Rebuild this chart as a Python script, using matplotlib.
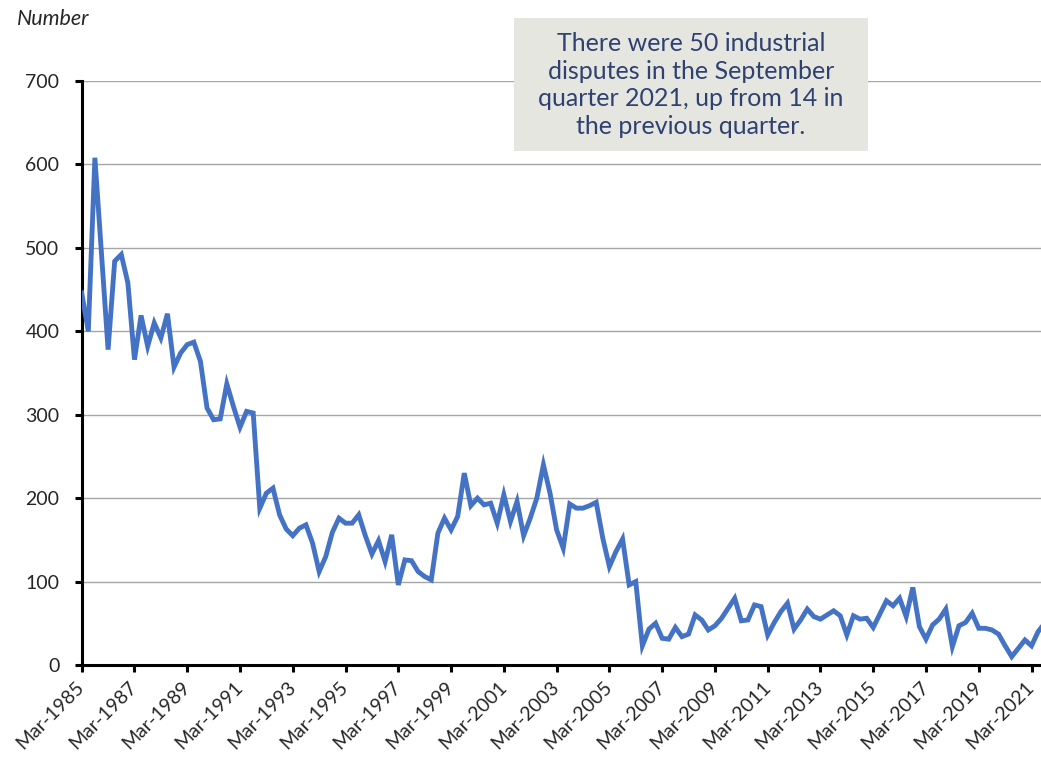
import matplotlib
matplotlib.use('Agg')
import matplotlib.pyplot as plt
from matplotlib.patches import Rectangle

# Quarterly industrial disputes, Mar-1985 onwards
disputes = [
    446, 400, 608, 493, 378, 484, 492, 458, 366, 419,
    382, 410, 392, 421, 357, 374, 384, 387, 364, 308,
    294, 295, 337, 310, 285, 304, 302, 188, 206, 212,
    180, 163, 155, 164, 168, 146, 112, 130, 159, 176,
    170, 170, 180, 155, 133, 149, 124, 156, 96, 126,
    125, 112, 106, 102, 158, 176, 162, 178, 230, 191,
    200, 192, 194, 170, 204, 172, 196, 155, 176, 200,
    240, 206, 162, 140, 193, 188, 188, 191, 195, 152,
    118, 136, 151, 96, 100, 23, 43, 50, 32, 31,
    45, 34, 37, 60, 54, 42, 47, 56, 68, 80,
    53, 54, 72, 70, 36, 51, 64, 74, 43, 54,
    67, 58, 55, 60, 65, 59, 36, 59, 55, 56,
    45, 61, 77, 71, 80, 58, 93, 46, 31, 48,
    55, 67, 22, 47, 51, 62, 44, 44, 42, 37,
    23, 10, 20, 30, 23, 40, 50,
]
tick_years = list(range(1985, 2022, 2))
tick_labels = [f"Mar-{y}" for y in tick_years]
tick_pos = [(y - 1985) * 4 for y in tick_years]
y_ticks = [0, 100, 200, 300, 400, 500, 600, 700]

note = ("There were 50 industrial\ndisputes in the September\n"
        "quarter 2021, up from 14 in\nthe previous quarter.")

plt.rcParams['font.family'] = ['Lato', 'DejaVu Sans']

fig = plt.figure(figsize=(10.41, 7.65), dpi=100)
W, H = 1041, 765
# plot area runs past the right edge (the original is cropped there)
ax = fig.add_axes([81.7 / W, (H - 665) / H, 147 * 6.596 / W, 584 / H])

ax.plot(range(len(disputes)), disputes, color='#4472C4', lw=3.5,
        solid_joinstyle='miter', zorder=3)

ax.set_xlim(0, 147)
ax.set_ylim(0, 700)
ax.set_yticks(y_ticks)
ax.set_xticks(tick_pos)
ax.set_xticklabels(tick_labels, rotation=45, ha='right', va='center',
                   rotation_mode='anchor')

ax.grid(axis='y', color='#A6A6A6', lw=1.0)
ax.set_axisbelow(True)
for s in ['top', 'right']:
    ax.spines[s].set_visible(False)
ax.spines['left'].set_linewidth(2.2)
ax.spines['bottom'].set_linewidth(2.2)
ax.tick_params(axis='both', direction='out', length=5, width=2.2,
               labelsize=14, colors='black', labelcolor='#262626')
ax.tick_params(axis='x', pad=9)
ax.tick_params(axis='y', pad=11)

fig.text(17 / W, 1 - 19 / H, 'Number', fontsize=15.5, style='italic',
         color='#262626', va='center', ha='left')

fig.add_artist(Rectangle((514 / W, (H - 151) / H), 354 / W, 133 / H,
                         transform=fig.transFigure, facecolor='#E6E6E1',
                         edgecolor='none', zorder=5))
fig.text(691 / W, 1 - 85 / H, note, fontsize=18, color='#2E4170',
         ha='center', va='center', multialignment='center',
         linespacing=1.25, zorder=6)

plt.savefig('out.png', dpi=100)
